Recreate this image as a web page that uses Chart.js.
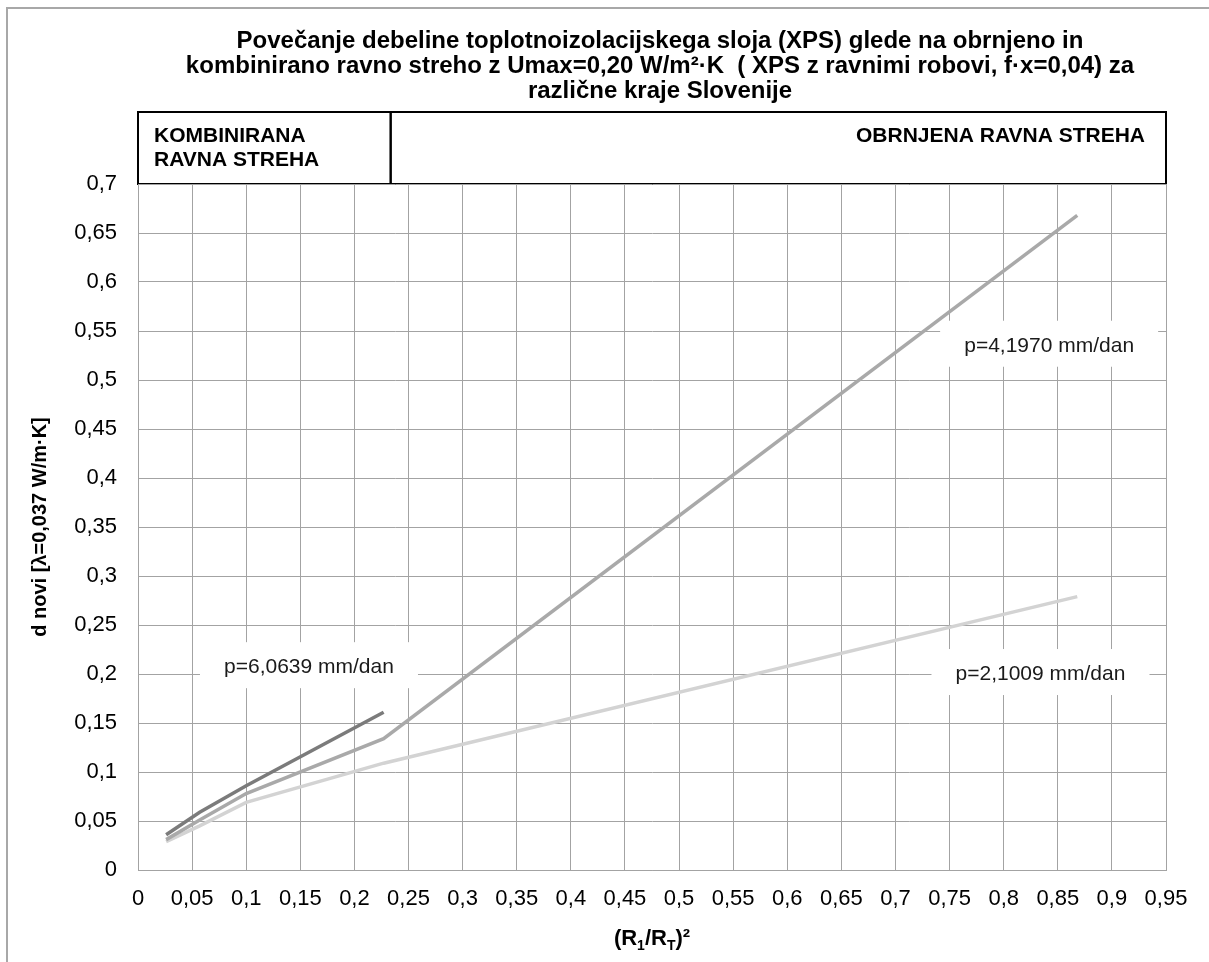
<!DOCTYPE html>
<html>
<head>
<meta charset="utf-8">
<script src="https://cdn.jsdelivr.net/npm/chart.js@4"></script>
<style>
html, body { margin: 0; padding: 0; background: #fff; }
#wrap { width: 1209px; height: 962px; }
</style>
</head>
<body>
<div id="wrap"><canvas id="chart" width="1209" height="962"></canvas></div>
<script>
// tick labels (decimal comma)
const xTickLabels = ['0', '0,05', '0,1', '0,15', '0,2', '0,25', '0,3', '0,35', '0,4', '0,45',
    '0,5', '0,55', '0,6', '0,65', '0,7', '0,75', '0,8', '0,85', '0,9', '0,95'];
const yTickLabels = ['0', '0,05', '0,1', '0,15', '0,2', '0,25', '0,3', '0,35', '0,4', '0,45',
    '0,5', '0,55', '0,6', '0,65', '0,7'];

// series
const seriesNames = ['p=6,0639 mm/dan', 'p=4,1970 mm/dan', 'p=2,1009 mm/dan'];
const xKomb = [0.026, 0.057, 0.1, 0.227];
const yKomb = [0.036, 0.059, 0.086, 0.161];
const xObr = [0.026, 0.057, 0.1, 0.227, 0.868];
const yObrHigh = [0.031, 0.051, 0.078, 0.134, 0.668];
const yObrLow = [0.029, 0.045, 0.069, 0.109, 0.279];

// where the label boxes sit (data coords of their centres)
const labelX = [0.158, 0.842, 0.834];
const labelY = [0.209, 0.537, 0.202];

const titleLines = [
    'Povečanje debeline toplotnoizolacijskega sloja (XPS) glede na obrnjeno in',
    'kombinirano ravno streho z Umax=0,20 W/m²·K  ( XPS z ravnimi robovi, f·x=0,04) za',
    'različne kraje Slovenije'
];
const regionSplit = 0.2335;
const FONT = '"Liberation Sans", Arial, sans-serif';

const toPoints = (xs, ys) => xs.map((x, i) => ({ x: x, y: ys[i] }));

const decor = {
    id: 'decor',
    beforeDraw(chart) {
        const ctx = chart.ctx, a = chart.chartArea, xs = chart.scales.x;
        ctx.save();
        ctx.fillStyle = '#fff';
        ctx.fillRect(0, 0, chart.width, chart.height);

        // outer frame
        ctx.strokeStyle = '#a8a8a8';
        ctx.lineWidth = 2;
        ctx.beginPath();
        ctx.moveTo(7, chart.height);
        ctx.lineTo(7, 8);
        ctx.lineTo(chart.width, 8);
        ctx.stroke();

        // title
        ctx.fillStyle = '#000';
        ctx.font = 'bold 24px ' + FONT;
        ctx.textAlign = 'center';
        ctx.textBaseline = 'middle';
        titleLines.forEach((t, i) => ctx.fillText(t, (a.left + a.right) / 2 + 8, 41 + i * 25));

        // region boxes
        const x0 = xs.getPixelForValue(0), x1 = xs.getPixelForValue(regionSplit), x2 = xs.getPixelForValue(0.95);
        const top = a.top - 72;
        ctx.strokeStyle = '#000';
        ctx.lineWidth = 2;
        ctx.strokeRect(x0, top, x1 - x0, 72);
        ctx.strokeRect(x1, top, x2 - x1, 72);
        ctx.font = 'bold 21px ' + FONT;
        ctx.textBaseline = 'alphabetic';
        ctx.textAlign = 'left';
        ctx.fillText('KOMBINIRANA', x0 + 16, top + 30);
        ctx.fillText('RAVNA STREHA', x0 + 16, top + 54);
        ctx.textAlign = 'right';
        ctx.fillText('OBRNJENA RAVNA STREHA', x2 - 21, top + 30);
        ctx.restore();
    },
    beforeDatasetsDraw(chart) {
        const ctx = chart.ctx, xs = chart.scales.x, ys = chart.scales.y;
        ctx.save();
        ctx.font = '21px ' + FONT;
        ctx.textAlign = 'center';
        ctx.textBaseline = 'middle';
        seriesNames.forEach((t, i) => {
            const cx = xs.getPixelForValue(labelX[i]), cy = ys.getPixelForValue(labelY[i]);
            ctx.fillStyle = '#fff';
            ctx.fillRect(cx - 109, cy - 23, 218, 46);
            ctx.fillStyle = '#1a1a1a';
            ctx.fillText(t, cx, cy + 2);
        });
        ctx.restore();
    },
    afterDraw(chart) {
        // x axis title with subscripts: (R1/RT)²
        const ctx = chart.ctx, a = chart.chartArea;
        const big = 'bold 22px ' + FONT, small = 'bold 14px ' + FONT;
        const parts = [['(R', big, 0], ['1', small, 5], ['/R', big, 0], ['T', small, 5], [')²', big, 0]];
        ctx.save();
        ctx.fillStyle = '#000';
        ctx.textBaseline = 'alphabetic';
        ctx.textAlign = 'left';
        let w = 0;
        parts.forEach(p => { ctx.font = p[1]; w += ctx.measureText(p[0]).width; });
        let x = (a.left + a.right) / 2 - w / 2;
        const base = 945;
        parts.forEach(p => {
            ctx.font = p[1];
            ctx.fillText(p[0], x, base + p[2]);
            x += ctx.measureText(p[0]).width;
        });
        ctx.restore();
    }
};

new Chart(document.getElementById('chart'), {
    type: 'scatter',
    data: {
        datasets: [
            { label: seriesNames[0], data: toPoints(xKomb, yKomb), borderColor: '#7b7b7b' },
            { label: seriesNames[1], data: toPoints(xObr, yObrHigh), borderColor: '#a9a9a9' },
            { label: seriesNames[2], data: toPoints(xObr, yObrLow), borderColor: '#d3d3d3' }
        ].map(d => Object.assign(d, { showLine: true, borderWidth: 3.5, pointRadius: 0, pointHoverRadius: 0, tension: 0 }))
    },
    options: {
        responsive: false,
        animation: false,
        devicePixelRatio: 1,
        layout: { padding: { top: 184, right: 43, bottom: 0, left: 0 } },
        plugins: { legend: { display: false }, tooltip: { enabled: false } },
        scales: {
            x: {
                type: 'linear', min: 0, max: 0.95,
                afterFit: s => { s.height = 92; },
                grid: { color: '#a3a3a3', drawTicks: false },
                border: { color: '#a3a3a3' },
                ticks: {
                    stepSize: 0.05, padding: 16, maxRotation: 0, autoSkip: false,
                    color: '#000', font: { family: FONT, size: 22 },
                    callback: (v, i) => xTickLabels[i]
                }
            },
            y: {
                min: 0, max: 0.7,
                afterFit: s => { s.width = 138; },
                grid: { color: '#a3a3a3', drawTicks: false },
                border: { color: '#a3a3a3' },
                ticks: {
                    stepSize: 0.05, padding: 21, autoSkip: false,
                    color: '#000', font: { family: FONT, size: 22 },
                    callback: (v, i) => yTickLabels[i]
                },
                title: {
                    display: true, text: 'd novi [λ=0,037 W/m·K]', color: '#000',
                    font: { family: FONT, size: 20, weight: 'bold' }, padding: { top: 28 }
                }
            }
        }
    },
    plugins: [decor]
});
</script>
</body>
</html>
